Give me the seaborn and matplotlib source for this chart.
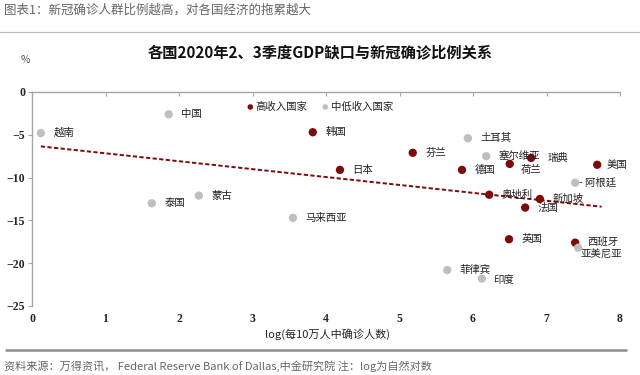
import numpy as np
import pandas as pd
import matplotlib
matplotlib.use('Agg')
import matplotlib.pyplot as plt
import seaborn as sns

# 数据：log(每10万人中确诊人数) 与 GDP缺口(%)
countries = ['越南', '中国', '高收入国家', '中低收入国家', '韩国', '日本', '芬兰', '土耳其',
             '塞尔维亚', '荷兰', '瑞典', '德国', '美国', '阿根廷', '奥地利', '新加坡',
             '法国', '英国', '西班牙', '亚美尼亚', '菲律宾', '印度', '泰国', '蒙古', '马来西亚']
log_cases = [0.12, 1.86, 2.97, 3.99, 3.82, 4.19, 5.18, 5.93,
             6.18, 6.50, 6.79, 5.85, 7.69, 7.39, 6.22, 6.91,
             6.71, 6.49, 7.39, 7.43, 5.65, 6.12, 1.63, 2.27, 3.55]
gdp_gap = [-4.8, -2.6, -1.75, -1.75, -4.7, -9.1, -7.1, -5.4,
           -7.5, -8.4, -7.7, -9.1, -8.5, -10.6, -12.0, -12.5,
           -13.5, -17.2, -17.6, -18.2, -20.8, -21.8, -13.0, -12.1, -14.7]
group = ['其他', '其他', '高收入', '其他', '高收入', '高收入', '高收入', '其他',
         '其他', '高收入', '高收入', '高收入', '高收入', '其他', '高收入', '高收入',
         '高收入', '高收入', '高收入', '其他', '其他', '其他', '其他', '其他', '其他']
trend_x = [0.12, 7.75]
trend_y = [-6.35, -13.4]

df = pd.DataFrame({'country': countries, 'x': log_cases, 'y': gdp_gap, 'group': group})
df['size'] = np.where(df['country'].isin(['高收入国家', '中低收入国家']), 'small', 'big')

# 标签偏移(点)
offsets = {c: (9, 0) for c in countries}
offsets.update({'高收入国家': (4, 0), '中低收入国家': (4, 0), '瑞典': (12, 0),
                '荷兰': (8, -4), '美国': (7, 0), '亚美尼亚': (2, -5), '西班牙': (9, 1),
                '阿根廷': (3, 0), '印度': (8, -1)})

sns.set_style('white')
plt.rcParams['font.family'] = ['Noto Sans CJK SC', 'DejaVu Sans']

red = '#7B0C0C'
gray = '#BFBFBF'

fig = plt.figure(figsize=(6.4, 3.75), dpi=100)
ax = fig.add_axes([32/640, 1-306/375, 588/640, 214/375])

sns.lineplot(x=trend_x, y=trend_y, ax=ax, color=red, linestyle=(0, (2.2, 1.2)), linewidth=1.4)
for sz, s in [('big', 36), ('small', 16)]:
    sub = df[df['size'] == sz]
    sns.scatterplot(data=sub, x='x', y='y', hue='group', palette={'高收入': red, '其他': gray},
                    s=s, edgecolor='none', ax=ax, legend=False, zorder=3)

for c, x, y in zip(countries, log_cases, gdp_gap):
    dx, dy = offsets[c]
    label = '- 阿根廷' if c == '阿根廷' else c
    ax.annotate(label, (x, y), xytext=(dx, dy), textcoords='offset points',
                va='center', ha='left', fontsize=7.5, color='#222222')

ax.set_xlim(0, 8)
ax.set_ylim(-25, 0)
ax.set_xticks(range(0, 9))
ax.set_yticks(range(-25, 1, 5))
for sp in ['right', 'bottom']:
    ax.spines[sp].set_visible(False)
for sp in ['left', 'top']:
    ax.spines[sp].set_color('#A6A6A6')
    ax.spines[sp].set_linewidth(1)
ax.tick_params(axis='x', which='both', top=True, bottom=False, labeltop=False, labelbottom=True,
               direction='in', length=3, color='#A6A6A6', labelsize=8.5, pad=5)
ax.tick_params(axis='y', left=True, direction='out', length=3, color='#A6A6A6', labelsize=8.5, pad=2)
for lab in ax.get_xticklabels() + ax.get_yticklabels():
    lab.set_family(['Liberation Serif', 'DejaVu Serif'])
    lab.set_fontweight('bold')
ax.set_xlabel('log(每10万人中确诊人数)', fontsize=8, labelpad=2)
ax.xaxis.set_label_coords((328-32)/588, -0.105)
ax.set_ylabel('')

fig.text(320/640, 1-53/375, '各国2020年2、3季度GDP缺口与新冠确诊比例关系', ha='center', va='center',
         fontsize=11, fontweight='bold', color='#111111')
fig.text(25/640, 1-60/375, '%', ha='center', va='center', fontsize=7.5, color='#555555')
fig.text(4/640, 1-10/375, '图表1：新冠确诊人群比例越高，对各国经济的拖累越大', ha='left', va='center',
         fontsize=9, color='#666666')
fig.text(4/640, 1-366/375, '资料来源：万得资讯， Federal Reserve Bank of Dallas,中金研究院 注：log为自然对数',
         ha='left', va='center', fontsize=8, color='#666666')
fig.add_artist(plt.Line2D([0, 1], [1-32/375, 1-32/375], color='#BBBBBB', linewidth=0.8))
fig.add_artist(plt.Line2D([6/640, 626/640], [1-350/375, 1-350/375], color='#8C8C8C', linewidth=1.8))

plt.savefig('out.png', dpi=100)
